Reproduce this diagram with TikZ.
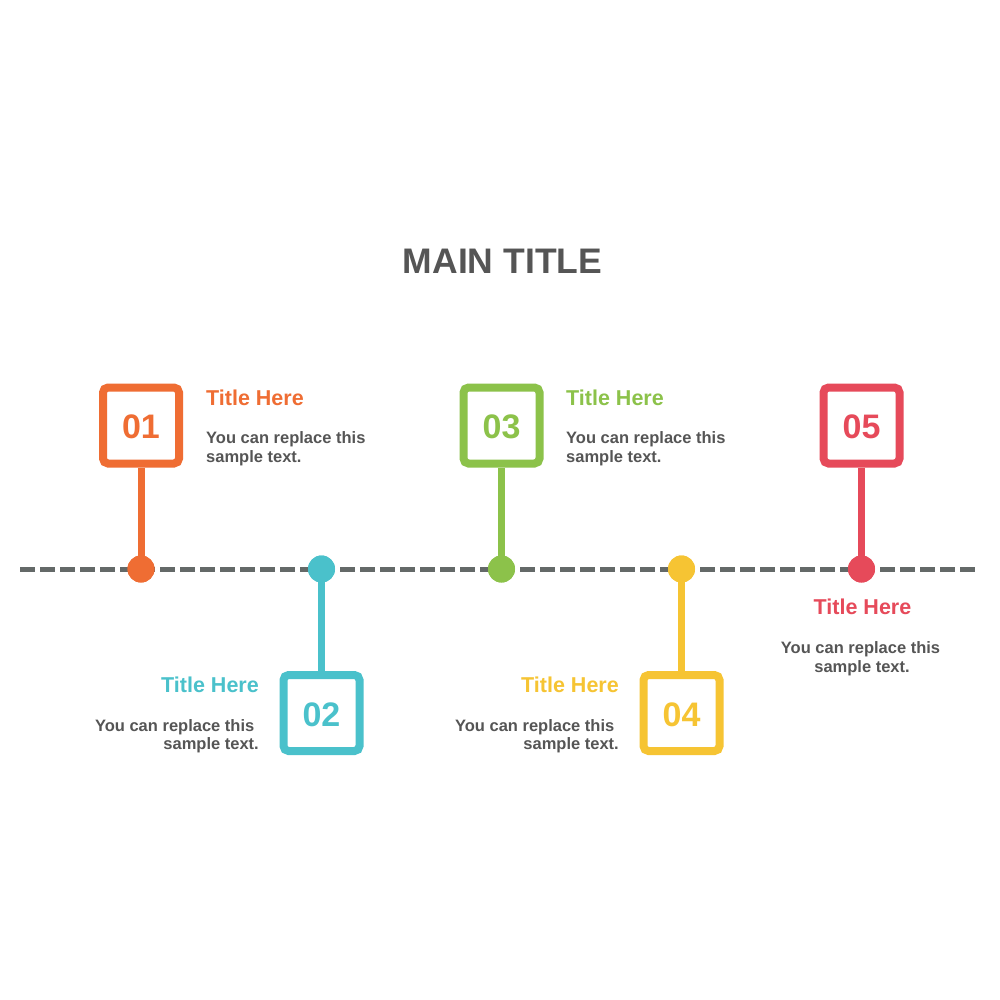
\documentclass[tikz,border=0pt]{standalone}
\usepackage{fontspec}
\setmainfont{Liberation Sans}
\definecolor{corange}{HTML}{EF6D33}
\definecolor{cteal}{HTML}{4AC1CB}
\definecolor{cgreen}{HTML}{8CC24A}
\definecolor{cyellow}{HTML}{F6C433}
\definecolor{cred}{HTML}{E64A5A}
\definecolor{cline}{HTML}{646968}
\definecolor{ctext}{HTML}{555555}
\tikzset{
  numbox/.style={draw=#1, line width=8pt, rounded corners=5pt, minimum width=76pt, minimum height=76pt, inner sep=0pt, fill=white},
  numtext/.style={text=#1, font=\fontsize{34}{34}\selectfont\bfseries, inner sep=0pt, anchor=base},
  stem/.style={draw=#1, line width=7pt},
  dot/.style={circle, fill=#1, minimum size=27pt, inner sep=0pt},
  ttl/.style={text=#1, font=\fontsize{21.5}{21.5}\selectfont\bfseries, inner sep=0pt},
  body/.style={text=ctext, font=\fontsize{16.5}{19}\selectfont\bfseries, inner sep=0pt},
  timeline/.style={draw=cline, line width=5pt, dash pattern=on 15pt off 5pt}
}
\begin{document}
\begin{tikzpicture}[x=1pt,y=-1pt]
\useasboundingbox[fill=white] (0,0) rectangle (1000,1000);
\node[text=ctext, font=\fontsize{35.5}{35.5}\selectfont\bfseries, inner sep=0pt, anchor=base] (main) at (502.5,273) {MAIN TITLE};
% timeline
\coordinate (tl1) at (20,569);
\coordinate (tl2) at (976,569);
\draw[timeline] (tl1) -- (tl2);
% boxes
\node[numbox=corange] (b1) at (141,425.5) {};
\node[numbox=cteal] (b2) at (321.5,713) {};
\node[numbox=cgreen] (b3) at (501.5,425.5) {};
\node[numbox=cyellow] (b4) at (681.5,713) {};
\node[numbox=cred] (b5) at (861.5,425.5) {};
% dots
\node[dot=corange] (d1) at (141,569) {};
\node[dot=cteal] (d2) at (321.5,569) {};
\node[dot=cgreen] (d3) at (501.5,569) {};
\node[dot=cyellow] (d4) at (681.5,569) {};
\node[dot=cred] (d5) at (861.5,569) {};
% stems
\draw[stem=corange] (b1.south) -- (d1.center);
\draw[stem=cteal] (b2.north) -- (d2.center);
\draw[stem=cgreen] (b3.south) -- (d3.center);
\draw[stem=cyellow] (b4.north) -- (d4.center);
\draw[stem=cred] (b5.south) -- (d5.center);
\node[dot=corange] at (d1) {};
\node[dot=cteal] at (d2) {};
\node[dot=cgreen] at (d3) {};
\node[dot=cyellow] at (d4) {};
\node[dot=cred] at (d5) {};
% numbers
\node[numtext=corange] (n1) at (141,438) {01};
\node[numtext=cteal] (n2) at (321.5,726) {02};
\node[numtext=cgreen] (n3) at (501.5,438) {03};
\node[numtext=cyellow] (n4) at (681.5,726) {04};
\node[numtext=cred] (n5) at (861.5,438) {05};
% texts 01
\node[ttl=corange, anchor=base west] (t1) at (206,405) {Title Here};
\node[body, anchor=base west] (s1a) at (206,443) {You can replace this};
\node[body, anchor=base west] (s1b) at (206,462) {sample text.};
% texts 03
\node[ttl=cgreen, anchor=base west] (t3) at (566,405) {Title Here};
\node[body, anchor=base west] (s3a) at (566,443) {You can replace this};
\node[body, anchor=base west] (s3b) at (566,462) {sample text.};
% texts 02
\node[ttl=cteal, anchor=base east] (t2) at (259,692) {Title Here};
\node[body, anchor=base east] (s2a) at (254.5,731) {You can replace this};
\node[body, anchor=base east] (s2b) at (259,749) {sample text.};
% texts 04
\node[ttl=cyellow, anchor=base east] (t4) at (619,692) {Title Here};
\node[body, anchor=base east] (s4a) at (614.5,731) {You can replace this};
\node[body, anchor=base east] (s4b) at (619,749) {sample text.};
% texts 05
\node[ttl=cred, anchor=base] (t5) at (862.5,614) {Title Here};
\node[body, anchor=base] (s5a) at (860.5,653) {You can replace this};
\node[body, anchor=base] (s5b) at (862,672) {sample text.};
\end{tikzpicture}
\end{document}
